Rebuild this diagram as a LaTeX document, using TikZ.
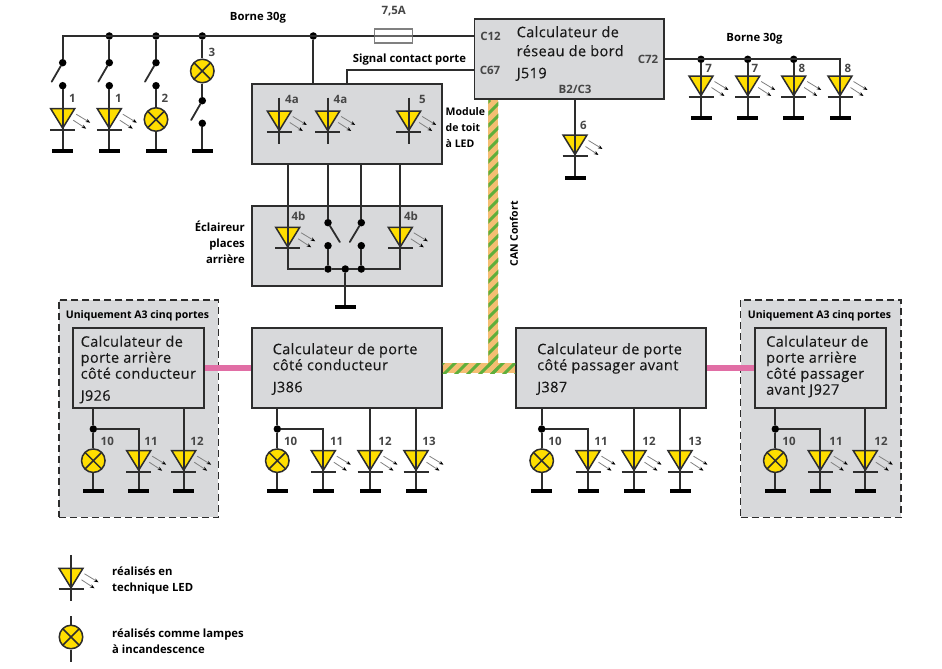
\documentclass[tikz,border=0pt]{standalone}
\usepackage{fontspec}
\setmainfont{Open Sans}
\usepackage{tikz}
\usetikzlibrary{arrows.meta}
\definecolor{boxgray}{RGB}{216, 217, 219}
\definecolor{linedark}{RGB}{45, 45, 45}
\definecolor{ledyellow}{RGB}{255, 222, 0}
\definecolor{numgray}{RGB}{70, 70, 70}
\definecolor{canorange}{RGB}{245, 190, 115}
\definecolor{cangreen}{RGB}{95, 175, 60}
\definecolor{doorpink}{RGB}{225, 110, 165}
\tikzset{
  wire/.style={draw=linedark, line width=1.8pt},
  boxnode/.style={draw=linedark, fill=boxgray, line width=1.7pt, inner sep=0pt},
  zonenode/.style={draw=linedark, fill=boxgray, line width=1.5pt, dash pattern=on 7pt off 4pt, inner sep=0pt},
  dotnode/.style={circle, fill=black, minimum size=7.5pt, inner sep=0pt, outer sep=0pt},
  gndnode/.style={rectangle, fill=black, minimum width=21pt, minimum height=4pt, inner sep=0pt, outer sep=0pt},
  lampnode/.style={circle, draw=linedark, fill=ledyellow, line width=1.5pt, minimum size=23.5pt, inner sep=0pt,
    path picture={\draw[linedark, line width=1.5pt]
      (path picture bounding box.north west) -- (path picture bounding box.south east)
      (path picture bounding box.south west) -- (path picture bounding box.north east);}},
  numlabel/.style={text=numgray, font=\fontsize{11.5}{12}\selectfont\bfseries, inner sep=0pt},
  smalllabel/.style={font=\fontsize{11.3}{16}\selectfont\bfseries, inner sep=0pt},
  sidelabel/.style={font=\fontsize{10.5}{16}\selectfont\bfseries, inner sep=0pt},
  zonelabel/.style={font=\fontsize{10.5}{12}\selectfont\bfseries, inner sep=0pt},
  boxtext/.style={anchor=north west, align=left, inner sep=0pt, text=black!90,
    font=\fontsize{14.5}{16}\selectfont\addfontfeature{LetterSpace=2.8, FakeBold=0.25}},
  ray/.style={draw=gray, line width=0.8pt, -{Stealth[black, length=4.5pt, width=3.5pt]}},
}
% led symbol: name, x, y of the top edge of the triangle
\newcommand{\ledsym}[3]{
  \draw[fill=ledyellow, draw=linedark, line width=1.5pt, line join=miter] ({#2-12}, #3) -- ({#2+12}, #3) -- (#2, {#3+19.5}) -- cycle;
  \draw[draw=linedark, line width=1.7pt] ({#2-12.5}, {#3+21}) -- ({#2+12.5}, {#3+21});
  \draw[ray] ({#2+13.5}, {#3+5.5}) -- ({#2+27.5}, {#3+14});
  \draw[ray] ({#2+10.5}, {#3+11.5}) -- ({#2+23.5}, {#3+20});
  \coordinate (#1-in) at (#2, {#3-13.5});
  \coordinate (#1-out) at (#2, {#3+33});
}
% switch blade: from the upper dot to a free end
\newcommand{\bladesym}[3]{
  \coordinate (#1-end) at (#2, #3);
  \draw[wire, line cap=round] (#1) -- (#1-end);
}

\begin{document}
\begin{tikzpicture}[x=1pt, y=-1pt]
  \useasboundingbox (0, 0) rectangle (942, 669);

  % Dashed zones
  \node[zonenode, minimum width=159.5pt, minimum height=217.5pt] (zoneleft) at (138.5, 408.7) {};
  \node[zonenode, minimum width=160.5pt, minimum height=217.5pt] (zoneright) at (820.8, 408.7) {};

  % Boxes
  \node[boxnode, minimum width=189.5pt, minimum height=80pt] (j519) at (569.2, 59.3) {};
  \node[boxnode, minimum width=189.5pt, minimum height=80pt] (roof) at (347, 124) {};
  \node[boxnode, minimum width=189.5pt, minimum height=80pt] (rear) at (347, 246) {};
  \node[boxnode, minimum width=189.5pt, minimum height=80pt] (j386) at (347, 368.2) {};
  \node[boxnode, minimum width=189.5pt, minimum height=80pt] (j387) at (611, 368.2) {};
  \node[boxnode, minimum width=131pt, minimum height=80pt] (j926) at (138.5, 368.2) {};
  \node[boxnode, minimum width=130.5pt, minimum height=80pt] (j927) at (820.5, 368.2) {};

  % CAN line
  \coordinate (canknee) at (493.3, 368.2);
  \draw[canorange, line width=10pt] (j519.south -| canknee) -- (canknee);
  \draw[canorange, line width=10pt] (j386.east) -- (j387.west);
  \begin{scope}
    \clip (488.3, 100.2) rectangle (498.3, 373.2);
    \foreach \c in {590, 602, ..., 890} {
      \draw[cangreen, line width=3pt] ({\c-100}, 100) -- ({\c-400}, 400);
    }
  \end{scope}
  \begin{scope}
    \clip (442.6, 363.2) rectangle (515.4, 373.2);
    \foreach \c in {590, 602, ..., 890} {
      \draw[cangreen, line width=3pt] ({\c-100}, 100) -- ({\c-400}, 400);
    }
  \end{scope}

  % Door lines
  \draw[doorpink, line width=6.5pt] (j926.east) -- (j386.west);
  \draw[doorpink, line width=6.5pt] (j387.east) -- (j927.west);

  % Top row
  \node[rectangle, draw=gray, fill=white, line width=1.4pt, minimum width=38pt, minimum height=14pt, inner sep=0pt] (fuse) at (393.7, 36) {};
  \foreach \n/\x in {b/109.3, c/156, d/202.3, e/313.3} {
    \node[dotnode] (top\n) at (\x, 36) {};
  }
  \foreach \n/\x in {a/62.7, b/109.3, c/156} {
    \node[dotnode] (sw\n) at (\x, 62.7) {};
    \node[dotnode] (sw\n-low) at (\x, 85.7) {};
    \node[gndnode] (gnd\n) at (\x, 151.3) {};
    \bladesym{sw\n}{\x-11}{81.7}
  }
  \ledsym{leda}{62.7}{108.7}
  \ledsym{ledb}{109.3}{108.7}
  \node[lampnode] (lampc) at (156, 119.5) {};
  \node[lampnode] (lampd) at (202.3, 71) {};
  \node[dotnode] (swd) at (202.3, 100.7) {};
  \node[dotnode] (swd-low) at (202.3, 123.3) {};
  \node[gndnode] (gndd) at (202.3, 151.3) {};
  \bladesym{swd}{191.2}{120}

  \draw[wire] (swa) |- (fuse.west);
  \draw[draw=gray!80!black, line width=1.2pt] (fuse.west) -- (fuse.east);
  \draw[wire] (fuse.east) -- (fuse.east -| j519.west);
  \foreach \n in {b, c} {
    \draw[wire] (top\n) -- (sw\n);
  }
  \draw[wire] (swa-low) -- (gnda);
  \draw[wire] (swb-low) -- (gndb);
  \draw[wire] (swc-low) -- (lampc);
  \draw[wire] (lampc) -- (gndc);
  \draw[wire] (topd) -- (lampd);
  \draw[wire] (lampd) -- (swd);
  \draw[wire] (swd-low) -- (gndd);
  \draw[wire] (tope) -- (tope |- roof.north);
  \coordinate (doorsig) at (346.7, 84);
  \draw[wire] (doorsig) |- (j519.west |- 0, 70.3);

  % Roof module
  \ledsym{roofa}{279.3}{111}
  \ledsym{roofb}{327.7}{111}
  \ledsym{roofc}{408.7}{111}
  \foreach \n in {a, b, c} {
    \draw[wire] (roof\n-in) -- (roof\n-out);
  }

  % Rear lights
  \ledsym{reara}{287.7}{227.3}
  \ledsym{rearb}{400.3}{227.3}
  \node[dotnode] (rsa) at (328, 222.7) {};
  \node[dotnode] (rsb) at (361.3, 222.7) {};
  \node[dotnode] (rsa-low) at (328, 245.7) {};
  \node[dotnode] (rsb-low) at (361.3, 245.7) {};
  \node[dotnode] (rga) at (328, 269) {};
  \node[dotnode] (rgm) at (345.3, 269) {};
  \node[dotnode] (rgb) at (361.3, 269) {};
  \node[gndnode] (gndr) at (345.3, 307) {};
  \bladesym{rsa}{339.8}{242}
  \bladesym{rsb}{349.8}{242}
  \draw[wire] (roof.south -| reara-in) |- (rga);
  \draw[wire] (rga) -- (rgm);
  \draw[wire] (rgm) -- (rgb);
  \draw[wire] (roof.south -| rearb-in) |- (rgb);
  \draw[wire] (roof.south -| rsa) -- (rsa);
  \draw[wire] (roof.south -| rsb) -- (rsb);
  \draw[wire] (rsa-low) -- (rga);
  \draw[wire] (rsb-low) -- (rgb);
  \draw[wire] (rgm) -- (gndr);

  % J519 lights
  \foreach \n/\x in {a/701, b/747.7, c/793.7, d/840} {
    \ledsym{bord\n}{\x}{76}
    \node[gndnode] (gbord\n) at (\x, 118.3) {};
  }
  \foreach \n/\x in {a/701, b/747.7, c/793.7} {
    \node[dotnode] (dbord\n) at (\x, 59.3) {};
    \draw[wire] (dbord\n) -- (gbord\n);
  }
  \draw[wire] (j519.east |- dborda) -| (gbordd);
  \ledsym{ledf}{575}{135}
  \node[gndnode] (gndf) at (575, 177.7) {};
  \draw[wire] (j519.south -| gndf) -- (gndf);

  % Door groups
  \foreach \n/\xa/\xb/\xc in {j926/93.3/138.7/183.7, j386/277.3/323.3/370, j387/541.7/588/634, j927/775.3/820.3/865.3} {
    \node[lampnode] (lamp\n) at (\xa, 460.7) {};
    \node[dotnode] (dot\n) at (\xa, 429) {};
    \node[gndnode] (gl\n) at (\xa, 490.7) {};
    \node[gndnode] (gb\n) at (\xb, 490.7) {};
    \node[gndnode] (gc\n) at (\xc, 490.7) {};
    \ledsym{lb\n}{\xb}{450.7}
    \ledsym{lc\n}{\xc}{450.7}
    \draw[wire] (\n.south -| dot\n) -- (dot\n);
    \draw[wire] (dot\n) -- (lamp\n);
    \draw[wire] (lamp\n) -- (gl\n);
    \draw[wire] (dot\n) -| (gb\n);
    \draw[wire] (\n.south -| gc\n) -- (gc\n);
  }
  \foreach \n/\x in {j386/416, j387/680} {
    \ledsym{ld\n}{\x}{450.7}
    \node[gndnode] (gd\n) at (\x, 490.7) {};
    \draw[wire] (\n.south -| gd\n) -- (gd\n);
  }

  % Box texts
  \node[boxtext] (tj519) at (516.5, 26) {Calculateur de\\[3pt]réseau de bord\\[6pt]J519};
  \node[boxtext] (tj386) at (272.5, 343) {Calculateur de porte\\côté conducteur\\[6pt]J386};
  \node[boxtext] (tj387) at (537, 343) {Calculateur de porte\\côté passager avant\\[6pt]J387};
  \node[boxtext] (tj926) at (80.5, 335.5) {Calculateur de\\porte arrière\\côté conducteur\\[6pt]J926};
  \node[boxtext] (tj927) at (766, 335.5) {Calculateur de\\porte arrière\\côté passager\\avant J927};

  % Labels
  \node[smalllabel] (lborne) at (258, 17.5) {Borne 30g};
  \node[smalllabel] (lborneb) at (754.5, 38.5) {Borne 30g};
  \node[smalllabel] (lsignal) at (409.5, 60) {Signal contact porte};
  \node[sidelabel, anchor=west, align=left] (lmodule) at (445.5, 128) {Module\\de toit\\à LED};
  \node[smalllabel, anchor=east, align=right] (lrear) at (245, 242.5) {Éclaireur\\places\\arrière};
  \node[sidelabel, rotate=90] (lcan) at (514, 234) {CAN Confort};
  \node[zonelabel] (lzonea) at (137.5, 316) {Uniquement A3 cinq portes};
  \node[zonelabel] (lzoneb) at (819.5, 316) {Uniquement A3 cinq portes};
  \node[numlabel] (lfuse) at (393.7, 11) {7,5A};
  \node[numlabel] (lc12) at (490.5, 36) {C12};
  \node[numlabel] (lc67) at (490, 70) {C67};
  \node[numlabel] (lc72) at (648, 59.5) {C72};
  \node[numlabel] (lb2) at (575, 89.5) {B2/C3};

  % Numbers
  \foreach \t/\x/\y [count=\i] in {1/72.3/98, 1/118.3/98, 2/165/98, 3/212/52, 4a/292/99, 4a/340.5/99, 5/422.5/99,
    4b/298.5/216.5, 4b/411/216.5, 7/708.7/68, 7/755/68, 8/802/68, 8/848/68, 6/583.5/125,
    10/107.3/441, 11/151/441, 12/197/441, 10/290.7/441, 11/336.7/441, 12/385/441, 13/429/441,
    10/555/441, 11/601/441, 12/649/441, 13/695/441, 10/789/441, 11/836/441, 12/881/441} {
    \node[numlabel] (num\i) at (\x, \y) {\t};
  }

  % Legend
  \ledsym{legled}{71}{568.3}
  \draw[wire] (legled-in) -- (legled-out);
  \node[lampnode] (leglamp) at (71, 637) {};
  \coordinate (leglamptop) at (71, 616);
  \coordinate (leglampbot) at (71, 662);
  \draw[wire] (leglamptop) -- (leglamp);
  \draw[wire] (leglamp) -- (leglampbot);
  \node[smalllabel, anchor=west, align=left] (legleda) at (112, 580.5) {réalisés en\\technique LED};
  \node[smalllabel, anchor=west, align=left] (leglampa) at (112, 641) {réalisés comme lampes\\à incandescence};
\end{tikzpicture}
\end{document}
